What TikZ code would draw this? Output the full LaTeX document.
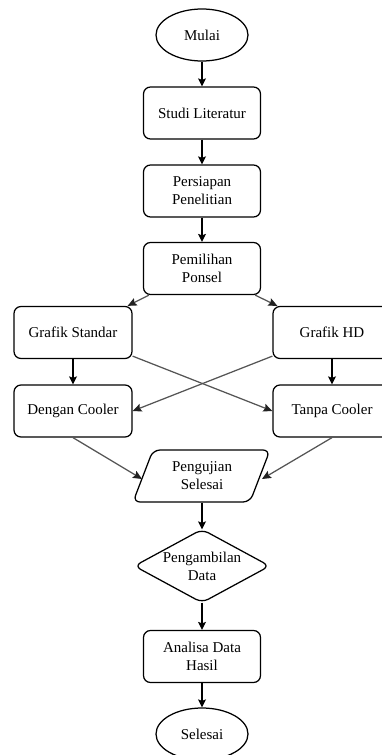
\documentclass[tikz,border=0pt]{standalone}
\usepackage{fontspec}
\setmainfont{Liberation Serif}
\usetikzlibrary{shapes.geometric,arrows.meta}
\definecolor{diag}{HTML}{555555}
\definecolor{diaghead}{HTML}{222222}
\tikzset{
  base/.style={font=\fontsize{15}{18}\selectfont, align=center, inner sep=0pt, line width=1.25pt},
  procbox/.style={base, draw, rounded corners=7pt, minimum width=117pt, minimum height=52pt},
  term/.style={base, draw, ellipse, minimum width=92pt, minimum height=52pt},
  plain/.style={base, minimum width=117pt, minimum height=52pt},
  arr/.style={line width=1.25pt, -{Stealth[length=8pt,width=8pt,inset=1.5pt]}},
  darr/.style={line width=1.25pt, draw=diag, -{Stealth[length=9pt,width=8pt,inset=1.5pt,color=diaghead]}}
}
\begin{document}
\begin{tikzpicture}[x=1pt,y=-1pt]
\useasboundingbox (0,0) rectangle (381,755);
\node[term] (mulai) at (202,35) {Mulai};
\node[procbox] (studi) at (202,113) {Studi Literatur};
\node[procbox] (pers) at (202,191) {Persiapan\\Penelitian};
\node[procbox] (pem) at (202,268.5) {Pemilihan\\Ponsel};
\node[procbox, minimum width=118pt] (gs) at (73,332.5) {Grafik Standar};
\node[procbox, minimum width=118pt] (ghd) at (332,332.5) {Grafik HD};
\node[procbox, minimum width=118pt] (dc) at (73,411) {Dengan Cooler};
\node[procbox, minimum width=118pt] (tc) at (332,411) {Tanpa Cooler};
\node[plain] (pu) at (202,476) {Pengujian\\Selesai};
\draw[line width=1.25pt, rounded corners=7pt]
  ([shift={(-49,-26)}]pu.center) -- ([shift={(68,-26)}]pu.center) --
  ([shift={(48,26)}]pu.center) -- ([shift={(-69,26)}]pu.center) -- cycle;
\node[plain, minimum width=134pt, minimum height=72pt] (pd) at (202,566) {Pengambilan\\Data};
\draw[line width=1.25pt, rounded corners=7pt]
  (pd.north) -- (pd.east) -- (pd.south) -- (pd.west) -- cycle;
\node[procbox] (an) at (202,656.5) {Analisa Data\\Hasil};
\node[term] (sel) at (202,734) {Selesai};
\coordinate (puL) at ([xshift=-60pt]pu.center);
\coordinate (puR) at ([xshift=60pt]pu.center);
\draw[arr] (mulai) -- (studi);
\draw[arr] (studi) -- (pers);
\draw[arr] (pers) -- (pem);
\draw[darr] ([xshift=6pt]pem.south west) -- ([xshift=-5pt]gs.north east);
\draw[darr] ([xshift=-6pt]pem.south east) -- ([xshift=5pt]ghd.north west);
\draw[arr] (gs) -- (dc);
\draw[arr] (ghd) -- (tc);
\draw[darr] ([yshift=3pt]gs.south east) -- (tc.west);
\draw[darr] ([yshift=3pt]ghd.south west) -- (dc.east);
\draw[darr] (dc.south) -- ([yshift=-3pt]puL);
\draw[darr] (tc.south) -- ([yshift=-3pt]puR);
\draw[arr] (pu.south) -- (pd.north);
\draw[arr] (pd.south) -- (an.north);
\draw[arr] (an) -- (sel);
\end{tikzpicture}
\end{document}
